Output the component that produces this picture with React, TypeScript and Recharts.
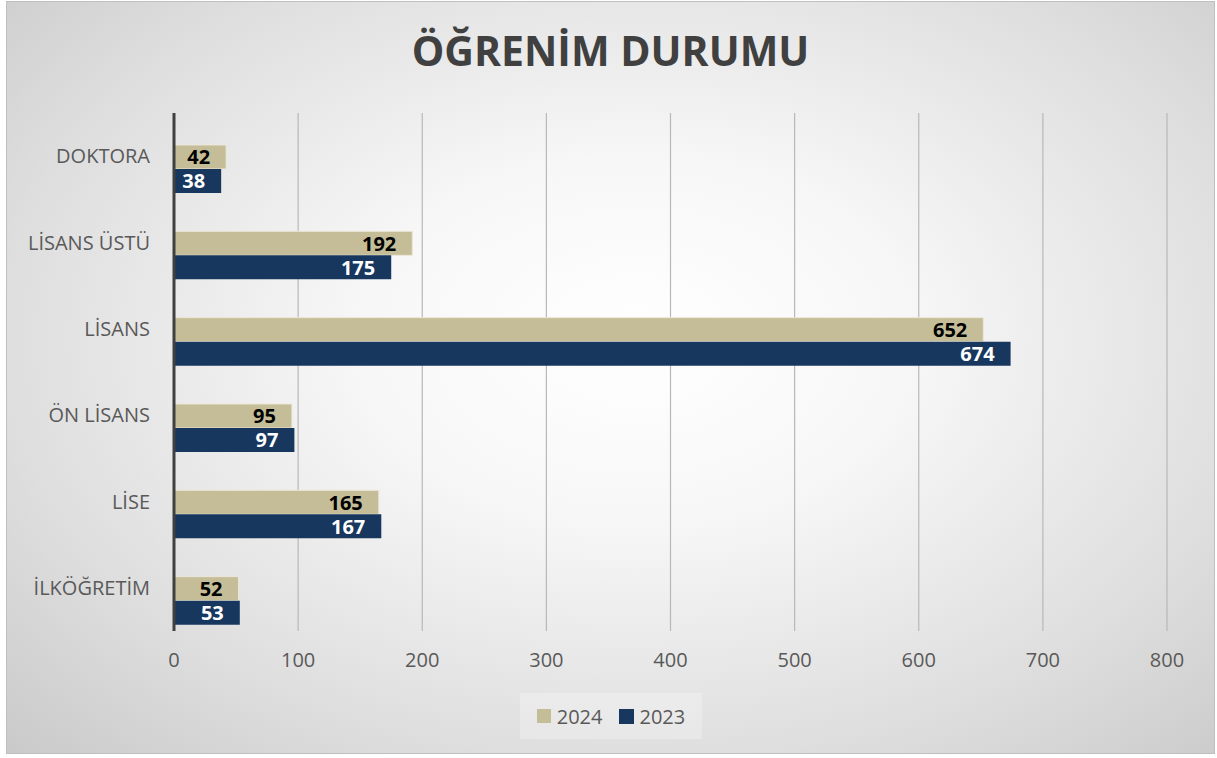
import React from "react";
import { BarChart, Bar, XAxis, YAxis, CartesianGrid, LabelList, Rectangle } from "recharts";

const categories = ["DOKTORA", "LİSANS ÜSTÜ", "LİSANS", "ÖN LİSANS", "LİSE", "İLKÖĞRETİM"];
const values2024 = [42, 192, 652, 95, 165, 52];
const values2023 = [38, 175, 674, 97, 167, 53];
const xTicks = [0, 100, 200, 300, 400, 500, 600, 700, 800];
const seriesNames = ["2024", "2023"];
const title = "ÖĞRENİM DURUMU";

const data = categories.map((c, i) => ({ name: c, y2024: values2024[i], y2023: values2023[i] }));

const FONT = "'Open Sans', sans-serif";
const TAN = "#C4BD97";
const NAVY = "#17375E";
const BAR_SHIFT = 13;

const shiftedShape = (props: any) => <Rectangle {...props} y={props.y + BAR_SHIFT} />;

const makeLabel = (color: string) => (p: any) => {
  const vb = p.viewBox && p.viewBox.width !== undefined ? p.viewBox : p;
  const x = Number(vb.x) + Number(vb.width) - 16;
  const y = Number(vb.y) + Number(vb.height) / 2 + BAR_SHIFT;
  return (
    <text
      x={x}
      y={y}
      textAnchor="end"
      dominantBaseline="central"
      style={{ fontFamily: FONT, fontSize: 20, fontWeight: 700, fill: color }}
    >
      {p.value}
    </text>
  );
};

export default function App() {
  return (
    <div style={{ position: "absolute", left: 0, top: 0, width: 1217, height: 758, background: "#fff" }}>
      <div
        style={{
          position: "absolute",
          left: 6,
          top: 1,
          width: 1207,
          height: 751,
          border: "1px solid #bfbfbf",
          background:
            "radial-gradient(ellipse 75% 80% at 52% 45%, #ffffff 0%, #f7f7f7 30%, #dedede 70%, #c8c8c8 100%)",
        }}
      >
        <div
          style={{
            position: "absolute",
            left: 0,
            right: 0,
            top: 22,
            textAlign: "center",
            fontFamily: FONT,
            fontWeight: 700,
            fontSize: 41,
            color: "#404040",
            lineHeight: "52px",
          }}
        >
          {title}
        </div>
        <BarChart
          layout="vertical"
          width={1207}
          height={751}
          data={data}
          margin={{ top: 111, right: 47, bottom: 62, left: 17 }}
          barCategoryGap="22%"
          barGap={0}
        >
          <CartesianGrid horizontal={false} vertical stroke="#b8b8b8" strokeWidth={1.2} />
          <XAxis
            type="number"
            domain={[0, 800]}
            ticks={xTicks}
            axisLine={false}
            tickLine={false}
            tickSize={0}
            tickMargin={22}
            height={60}
            tick={{ fontFamily: FONT, fontSize: 20, fill: "#595959" }}
          />
          <YAxis
            type="category"
            dataKey="name"
            width={150}
            axisLine={{ stroke: "#404040", strokeWidth: 3 }}
            tickLine={false}
            tickSize={0}
            tickMargin={24}
            tick={{ fontFamily: FONT, fontSize: 20, fill: "#595959" }}
          />
          <Bar
            dataKey="y2024"
            name={seriesNames[0]}
            fill={TAN}
            stroke="#ebe7d8"
            strokeWidth={1}
            shape={shiftedShape}
            isAnimationActive={false}
          >
            <LabelList dataKey="y2024" content={makeLabel("#000")} />
          </Bar>
          <Bar dataKey="y2023" name={seriesNames[1]} fill={NAVY} shape={shiftedShape} isAnimationActive={false}>
            <LabelList dataKey="y2023" content={makeLabel("#fff")} />
          </Bar>
        </BarChart>
        <div
          style={{
            position: "absolute",
            left: 513,
            top: 691,
            width: 182,
            height: 46,
            background: "rgba(255,255,255,0.25)",
            display: "flex",
            alignItems: "center",
            justifyContent: "center",
            gap: 16,
            fontFamily: FONT,
            fontSize: 20,
            color: "#595959",
          }}
        >
          <span style={{ display: "flex", alignItems: "center", gap: 6 }}>
            <span style={{ width: 14, height: 14, background: TAN, display: "inline-block" }} />
            {seriesNames[0]}
          </span>
          <span style={{ display: "flex", alignItems: "center", gap: 6 }}>
            <span style={{ width: 15, height: 15, background: NAVY, display: "inline-block" }} />
            {seriesNames[1]}
          </span>
        </div>
      </div>
    </div>
  );
}
